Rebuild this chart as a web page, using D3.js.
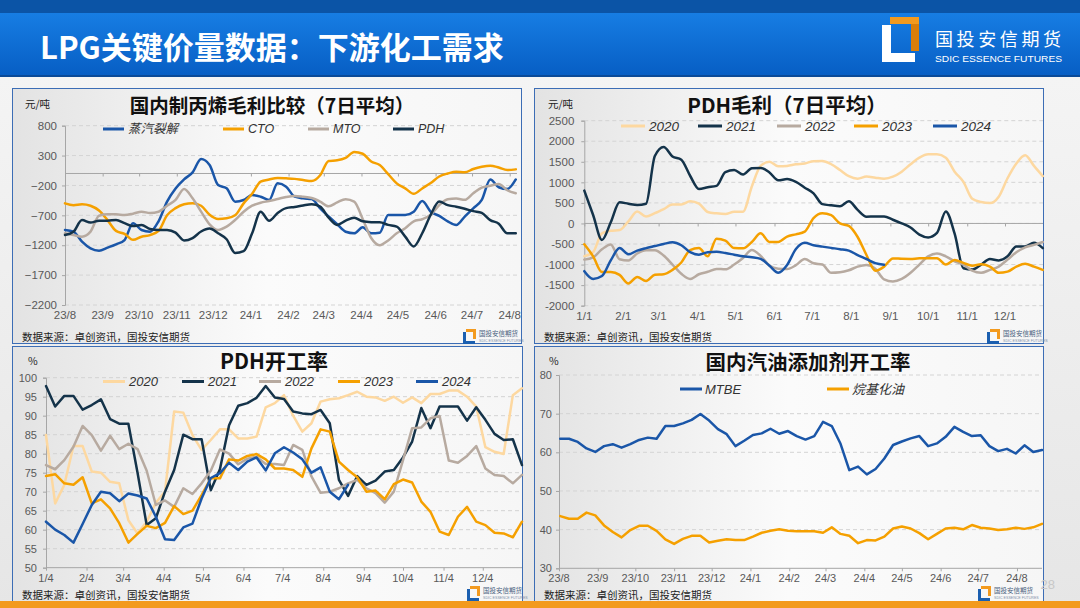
<!DOCTYPE html>
<html><head><meta charset="utf-8">
<script src="https://cdn.jsdelivr.net/npm/d3@7"></script>
<style>html,body{margin:0;padding:0;background:#f0f0f0}svg{display:block}</style>
</head><body>
<svg id="s" width="1080" height="608"></svg>
<script>
// ---------------- DATA ----------------
// Chart 1: 国内制丙烯毛利比较（7日平均）, weekly samples from 2023-08-01
const c1Start = "2023-08-01";
const c1Steam = [-945,-973,-1140,-1252,-1291,-1240,-1185,-1113,-834,-945,-973,-800,-471,-250,-98,19,242,142,-193,-248,-471,-443,-360,-388,-443,-165,-220,-388,-416,-427,-583,-720,-850,-974,-1000,-900,-1000,-990,-694,-694,-694,-640,-460,-640,-710,-800,-862,-720,-583,-443,-100,-230,-260,-100];
const c1CTO = [-499,-530,-516,-540,-620,-780,-960,-1010,-1110,-1057,-1030,-960,-700,-580,-516,-499,-540,-690,-760,-750,-700,-500,-340,-137,-100,-75,-81,-90,-110,-126,-30,210,220,260,360,330,200,142,-10,-165,-248,-340,-250,-160,-50,0,30,19,75,113,131,100,58,69];
const c1MTO = [-1001,-1029,-1057,-973,-706,-683,-683,-694,-672,-639,-661,-639,-539,-443,-260,-416,-639,-850,-945,-890,-778,-639,-539,-489,-460,-427,-394,-377,-390,-410,-470,-550,-483,-430,-470,-760,-1080,-1200,-1120,-1000,-917,-800,-765,-690,-530,-430,-420,-440,-330,-235,-204,-175,-280,-330];
const c1PDH = [-1029,-973,-780,-820,-790,-790,-778,-830,-880,-860,-930,-945,-945,-990,-1120,-1080,-970,-920,-1000,-1100,-1330,-1300,-1000,-640,-790,-660,-580,-560,-535,-516,-555,-740,-860,-790,-740,-800,-815,-817,-860,-890,-1057,-1220,-1000,-690,-470,-530,-555,-590,-630,-660,-780,-840,-1001,-1001];
const c1YTicks = [800,300,-200,-700,-1200,-1700,-2200];
const c1XTicks = ["2023-08-01","2023-09-01","2023-10-01","2023-11-01","2023-12-01","2024-01-01","2024-02-01","2024-03-01","2024-04-01","2024-05-01","2024-06-01","2024-07-01","2024-08-01"];
const c1XLabels = ["23/8","23/9","23/10","23/11","23/12","24/1","24/2","24/3","24/4","24/5","24/6","24/7","24/8"];
const c1Names = ["蒸汽裂解","CTO","MTO","PDH"];

// Chart 2: PDH毛利（7日平均）, weekly samples from Jan 1 of each year
const c2Start = "2023-01-01";
const c2Y2020 = [-800,-700,-240,-180,-160,50,290,170,250,350,460,460,540,480,280,246,230,287,287,900,1400,1500,1390,1400,1440,1460,1515,1519,1440,1300,1150,1090,1140,1114,1090,1138,1260,1440,1600,1681,1681,1600,1260,1010,600,520,495,650,1100,1460,1660,1400,1150];
const c2Y2021 = [800,206,-402,30,514,480,450,480,1640,1860,1630,1550,1160,840,880,915,1250,1300,1190,1340,1350,1240,1050,1080,1010,870,733,470,440,420,540,330,165,170,170,90,3,-100,-270,-340,-230,290,-250,-1091,-1120,-1000,-864,-900,-800,-560,-560,-470,-600];
const c2Y2022 = [-880,-825,-630,-510,-870,-900,-730,-650,-650,-780,-1000,-1225,-1350,-1236,-1176,-1105,-1116,-1000,-840,-645,-790,-1025,-1100,-1110,-1015,-865,-970,-1000,-1200,-1188,-1140,-1050,-1010,-1100,-1360,-1410,-1350,-1200,-1000,-800,-730,-800,-920,-1000,-1150,-1200,-1130,-1050,-880,-700,-580,-520,-450];
const c2Y2023 = [-508,-800,-1180,-1180,-1250,-1460,-1300,-1400,-1250,-1237,-1130,-950,-650,-600,-800,-370,-420,-600,-605,-450,-240,-450,-450,-320,-265,-200,130,246,200,0,-60,-330,-767,-1150,-1050,-850,-860,-864,-848,-848,-848,-1000,-889,-960,-1026,-994,-1050,-1200,-1172,-1050,-980,-1050,-1130];
const c2Y2024 = [-1160,-1350,-1280,-900,-600,-750,-660,-600,-550,-500,-460,-530,-700,-760,-700,-690,-720,-760,-800,-820,-860,-1030,-1200,-1010,-620,-470,-530,-564,-595,-625,-660,-770,-865,-965,-1005];
const c2YTicks = [2500,2000,1500,1000,500,0,-500,-1000,-1500,-2000];
const c2XTicks = ["2023-01-01","2023-02-01","2023-03-01","2023-04-01","2023-05-01","2023-06-01","2023-07-01","2023-08-01","2023-09-01","2023-10-01","2023-11-01","2023-12-01"];
const c2XLabels = ["1/1","2/1","3/1","4/1","5/1","6/1","7/1","8/1","9/1","10/1","11/1","12/1"];
const yearNames = ["2020","2021","2022","2023","2024"];

// Chart 3: PDH开工率 (%), weekly from Jan 4
const c3Start = "2023-01-04";
const c3Y2020 = [84.9,66.9,71.8,82,82,75.3,75,72.6,72.2,62.5,59,62.1,67.1,70,91.1,90.8,84.9,81,83.6,86.4,86.4,84,84,84.5,92.2,93.3,95.4,90,85.8,88,93.7,94.3,94.6,95.4,96.3,95,94.8,93.9,95,93.4,94.8,93.3,95.7,95.7,96.6,96.6,95,92.4,81.7,80.5,79.9,95.4,97.2];
const c3Y2021 = [97.8,92.4,95.2,95.2,91.6,92.8,94.3,89.1,87.9,87.9,75,61.2,63,70,75.7,85,83.8,83.8,70.4,75.9,87.5,92.6,93.3,94.7,97.8,94.8,94.4,91.1,90.6,90.4,91.5,88,73.1,68.9,74.1,71.8,72.9,75.3,75.7,79,83.2,92,86.7,92.4,92.4,92.4,88.7,92.2,88.9,85.2,83.6,83.8,77];
const c3Y2022 = [77,75.9,78.3,81.8,87.3,84.9,80.8,84.7,81.2,82.6,81.2,75.5,66.5,67.7,66,70.9,69.4,72.2,75.5,81.1,80,77.2,78.7,79.2,77.3,77.3,77,82.3,81,74,69.7,70,70.9,72.2,73.1,70.9,69.6,67.1,70,78.3,86.7,86.9,89.3,89.9,78.2,77.6,79.4,82,76.1,74.4,74.1,72.2,74.4];
const c3Y2023 = [74.1,74.6,72.2,71.8,73.8,66.9,68,65.6,61.7,56.6,58.9,61,60.4,61.8,66.2,64.1,65,69.1,73.5,73.5,78.5,78.2,79.4,79.9,78.5,76.1,76.1,75.7,73.9,81.4,86.4,85.8,77.9,75.7,73.8,70,70.3,68,72,73.2,72.4,67.4,64.7,59.5,58.6,63.4,66,62.1,61.2,59.2,59,58,62.1];
const c3Y2024 = [62.1,60,58.6,56.6,61.5,66.5,70,69.6,67.5,69.5,69,68.2,63.4,57.5,57.3,60.6,61.6,68.2,73.6,74.9,77.6,75.7,77.9,79,75.6,80.1,81.7,80.3,78.5,75,76.4,70,68,71.8];
const c3YTicks = [100,95,90,85,80,75,70,65,60,55,50];
const c3XTicks = ["2023-01-04","2023-02-04","2023-03-04","2023-04-04","2023-05-04","2023-06-04","2023-07-04","2023-08-04","2023-09-04","2023-10-04","2023-11-04","2023-12-04"];
const c3XLabels = ["1/4","2/4","3/4","4/4","5/4","6/4","7/4","8/4","9/4","10/4","11/4","12/4"];

// Chart 4: 国内汽油添加剂开工率 (%), weekly from 2023-08-02
const c4Start = "2023-08-02";
const c4MTBE = [63.5,63.5,62.7,61,60.1,61.6,62.1,61.2,62.1,63.2,63.8,63.5,66.8,66.8,67.5,68.4,69.9,68.2,66,64.7,61.6,63,64.5,64.9,66.1,64.8,65.5,64.2,63.3,64.2,67.9,66.8,62.2,55.4,56.3,54.3,55.7,58.4,61.9,62.8,63.6,64.2,61.6,62.3,64,66.6,65.3,64.2,64.4,61.6,60.3,60.9,59.7,61.8,60.1,60.6];
const c4Alky = [43.5,42.8,42.8,44.4,43.7,41.1,39.4,38,39.9,41,41,39.7,37.5,36.3,37.6,38.4,38.4,36.7,37.1,37.5,37.3,37.3,38.2,39.2,39.7,40.1,39.7,39.6,39.6,39.6,39.2,40.6,38.9,38.4,36.5,37.3,37.2,38.2,40.3,40.8,40.3,39.1,37.5,38.9,40.3,40.5,40.1,41.2,40.5,40.3,39.9,40.1,40.5,40.2,40.6,41.5];
const c4YTicks = [80,70,60,50,40,30];
const c4XTicks = c1XTicks;
const c4XLabels = c1XLabels;
const c4Names = ["MTBE","烷基化油"];

// ---------------- STYLE ----------------
const BLUE="#1a56a8", ORANGE="#f5a000", TAUPE="#b7aaa0", NAVY="#14334a", PEACH="#fdd8a0";
const FONT="'Liberation Sans','Noto Sans CJK SC',sans-serif";
const CJK="'Noto Sans CJK SC','Liberation Sans',sans-serif";
const parse=d3.timeParse("%Y-%m-%d");
const svg=d3.select("#s");
const defs=svg.append("defs");

function lg(id,stops,x2,y2){const g=defs.append("linearGradient").attr("id",id).attr("x1",0).attr("y1",0).attr("x2",x2).attr("y2",y2);
 stops.forEach(s=>g.append("stop").attr("offset",s[0]).attr("stop-color",s[1]));}
lg("hdr",[[0,"#1a84ea"],[1,"#075ec4"]],0,1);
lg("bg",[[0,"#f6f6f6"],[1,"#e6e6e6"]],0,1);
lg("pnl",[[0,"#e3e3e3"],[0.5,"#fbfbfb"],[1,"#f6f6f6"]],1,0);

// background + header
svg.append("rect").attr("width",1080).attr("height",608).attr("fill","url(#bg)");
svg.append("rect").attr("width",1080).attr("height",76).attr("fill","url(#hdr)");
svg.append("rect").attr("width",1080).attr("height",13).attr("fill","#0b54a6");
svg.append("rect").attr("y",75).attr("width",1080).attr("height",2).attr("fill","#0a4a98");
svg.append("text").attr("x",40).attr("y",45).attr("dominant-baseline","central")
  .attr("font-family",CJK).attr("font-weight","bold").attr("font-size",31).attr("fill","#fff")
  .text("LPG关键价量数据：下游化工需求");
// logo
svg.append("path").attr("d","M890,17 H919 V51 H911 V24 H890 Z").attr("fill","#f39a1e");
svg.append("path").attr("d","M911,24 H919 V51 H911 Z").attr("fill","#d97e0a");
svg.append("path").attr("d","M882,25 H891 V53 H915 V62 H882 Z").attr("fill","#fff");
svg.append("text").attr("x",935).attr("y",38).attr("dominant-baseline","central").attr("font-family",CJK)
  .attr("font-size",18).attr("fill","#fff").attr("textLength",126).text("国投安信期货");
svg.append("text").attr("x",935).attr("y",62).attr("font-family",FONT).attr("font-size",9.5)
  .attr("fill","#fff").attr("textLength",127).attr("lengthAdjust","spacingAndGlyphs").text("SDIC ESSENCE FUTURES");

// panels
const panels=[[12.5,88.5,509,255],[534.5,88.5,509,255],[12.5,346.5,510,262],[534.5,346.5,509,262]];
panels.forEach(p=>svg.append("rect").attr("x",p[0]).attr("y",p[1]).attr("width",p[2]).attr("height",p[3])
  .attr("fill","url(#pnl)").attr("stroke","#3c6db5").attr("stroke-width",1));

// helpers
function grid(y,vals,x0,x1){
  const g=svg.append("g");
  g.selectAll("line").data(vals).enter().append("line").attr("x1",x0).attr("x2",x1)
   .attr("y1",d=>y(d)).attr("y2",d=>y(d)).attr("stroke","#d4d4d4").attr("stroke-dasharray","4,3");
}
function yAxis(y,vals,x0,pad,fs,fmt){
  const a=svg.append("g").attr("transform",`translate(${x0},0)`)
   .call(d3.axisLeft(y).tickValues(vals).tickSize(3).tickPadding(pad).tickFormat(fmt||(d=>d)));
  a.select(".domain").attr("stroke","#a6a6a6");
  a.selectAll(".tick line").attr("stroke","#a6a6a6");
  a.selectAll("text").attr("font-family",FONT).attr("font-size",fs).attr("fill","#595959");
}
function xTicks(x,ticks,yLine,x0,x1){
  const a=svg.append("g").attr("transform",`translate(0,${yLine})`)
   .call(d3.axisBottom(x).tickValues(ticks).tickSize(3).tickFormat(""));
  a.select(".domain").remove();
  a.selectAll(".tick line").attr("stroke","#a6a6a6");
  svg.append("line").attr("x1",x0).attr("x2",x1).attr("y1",yLine).attr("y2",yLine).attr("stroke","#a6a6a6");
}
function xLabels(x,ticks,labels,yy,fs){
  svg.append("g").selectAll("text").data(ticks).enter().append("text")
   .attr("x",d=>x(d)).attr("y",yy).attr("text-anchor","middle").attr("dominant-baseline","central")
   .attr("font-family",FONT).attr("font-size",fs).attr("fill","#595959").text((d,i)=>labels[i]);
}
function series(x,y,dates,vals,color,curve,w){
  const pts=vals.map((v,i)=>[dates[i],v]);
  svg.append("path").datum(pts).attr("fill","none").attr("stroke",color).attr("stroke-width",w||2.5)
   .attr("stroke-linejoin","round").attr("stroke-linecap","round")
   .attr("d",d3.line().x(d=>x(d[0])).y(d=>y(d[1])).curve(curve||d3.curveLinear));
}
function weekly(start,n){const s=parse(start);return d3.range(n).map(i=>d3.timeDay.offset(s,7*i));}
function legend(items,yy,fs,len,gap){
  items.forEach(it=>{
    svg.append("line").attr("x1",it.x).attr("x2",it.x+len).attr("y1",yy).attr("y2",yy)
      .attr("stroke",it.c).attr("stroke-width",3);
    svg.append("text").attr("x",it.x+len+gap).attr("y",yy).attr("dominant-baseline","central")
      .attr("font-family",FONT).attr("font-style","italic").attr("font-size",fs).attr("fill","#333").text(it.t);
  });
}
function title(t,x,y,fs){
  svg.append("text").attr("x",x).attr("y",y).attr("text-anchor","middle").attr("dominant-baseline","central")
   .attr("font-family",CJK).attr("font-weight","bold").attr("font-size",fs).attr("fill","#111").text(t);
}
function small(t,x,y,fs,anchor){
  svg.append("text").attr("x",x).attr("y",y).attr("dominant-baseline","central").attr("text-anchor",anchor||"start")
   .attr("font-family",CJK).attr("font-size",fs).attr("fill","#222").text(t);
}
function miniLogo(x,y){
  svg.append("path").attr("d",`M${x+3},${y} h10 v10 h-3 v-7 h-7 Z`).attr("fill","#f39a1e");
  svg.append("path").attr("d",`M${x},${y+3} h3 v9 h9 v3 h-12 Z`).attr("fill","#1b5fb0");
  svg.append("text").attr("x",x+16).attr("y",y+7).attr("font-family",CJK).attr("font-size",6.5).attr("fill","#4a5f80").text("国投安信期货");
  svg.append("text").attr("x",x+16).attr("y",y+12.5).attr("font-family",FONT).attr("font-size",3.6).attr("fill","#8090a8").text("SDIC ESSENCE FUTURES");
}
const fmtNeg=d=>d<0?"−"+Math.abs(d):String(d);

// ---------------- CHART 1 ----------------
{
  const x=d3.scaleTime().domain([parse("2023-08-01"),parse("2024-08-07")]).range([65,517]);
  const y=d3.scaleLinear().domain([-2200,800]).range([305,125.67]);
  grid(y,c1YTicks,65,517);
  yAxis(y,c1YTicks,65,5,11.5,fmtNeg);
  xTicks(x,c1XTicks.map(parse),y(0),65,517);
  xLabels(x,c1XTicks.map(parse),c1XLabels,315,11.5);
  const d=weekly(c1Start,c1Steam.length);
  series(x,y,d,c1Steam,BLUE,d3.curveMonotoneX);
  series(x,y,d,c1CTO,ORANGE,d3.curveMonotoneX);
  series(x,y,d,c1MTO,TAUPE,d3.curveMonotoneX);
  series(x,y,d,c1PDH,NAVY,d3.curveMonotoneX);
  title("国内制丙烯毛利比较（7日平均）",272,104,19.5);
  small("元/吨",25,103,10.5);
  legend([{t:c1Names[0],c:BLUE,x:103},{t:c1Names[1],c:ORANGE,x:223},{t:c1Names[2],c:TAUPE,x:308},{t:c1Names[3],c:NAVY,x:393}],129,12.5,21,4);
  small("数据来源：卓创资讯，国投安信期货",22,336,10.5);
  miniLogo(463,329);
}
// ---------------- CHART 2 ----------------
{
  const x=d3.scaleTime().domain([parse("2023-01-01"),parse("2023-12-31")]).range([584.3,1042.8]);
  const y=d3.scaleLinear().domain([-2000,2500]).range([305.67,120.67]);
  grid(y,c2YTicks,584.3,1043);
  yAxis(y,c2YTicks,584.3,7,11.5);
  xTicks(x,c2XTicks.map(parse),y(0),584.3,1043);
  xLabels(x,c2XTicks.map(parse),c2XLabels,315.7,11.5);
  const d=weekly(c2Start,53);
  [[c2Y2020,PEACH],[c2Y2021,NAVY],[c2Y2022,TAUPE],[c2Y2023,ORANGE],[c2Y2024,BLUE]]
    .forEach(s=>series(x,y,d,s[0],s[1],d3.curveMonotoneX));
  title("PDH毛利（7日平均）",787,104,20.5);
  small("元/吨",548,103,10.5);
  const cols=[PEACH,NAVY,TAUPE,ORANGE,BLUE], xs=[621,698,777,854,933];
  legend(yearNames.map((t,i)=>({t,c:cols[i],x:xs[i]})),126,13.5,24,4);
  small("数据来源：卓创资讯，国投安信期货",544,336,10.5);
  miniLogo(987,329);
}
// ---------------- CHART 3 ----------------
{
  const x=d3.scaleTime().domain([parse("2023-01-04"),parse("2024-01-03")]).range([46,522]);
  const y=d3.scaleLinear().domain([50,100]).range([567.67,377.67]);
  grid(y,c3YTicks.filter(v=>v>50),46,522);
  yAxis(y,c3YTicks,46,6,11);
  xTicks(x,c3XTicks.map(parse),y(50),46,522);
  xLabels(x,c3XTicks.map(parse),c3XLabels,578,11);
  const d=weekly(c3Start,53);
  [[c3Y2020,PEACH],[c3Y2021,NAVY],[c3Y2022,TAUPE],[c3Y2023,ORANGE],[c3Y2024,BLUE]]
    .forEach(s=>series(x,y,d,s[0],s[1]));
  title("PDH开工率",274,360,21);
  small("%",28,360,10.5);
  const cols=[PEACH,NAVY,TAUPE,ORANGE,BLUE], xs=[103,182,259,338,416];
  legend(yearNames.map((t,i)=>({t,c:cols[i],x:xs[i]})),381.5,13,22,4);
  small("数据来源：卓创资讯，国投安信期货",22,594,10.5);
  miniLogo(467,586);
}
// ---------------- CHART 4 ----------------
{
  const x=d3.scaleTime().domain([parse("2023-08-01"),parse("2024-08-21")]).range([559,1042]);
  const y=d3.scaleLinear().domain([30,80]).range([568.3,375]);
  grid(y,c4YTicks.filter(v=>v>30),559,1042);
  yAxis(y,c4YTicks,559,4,11);
  xTicks(x,c4XTicks.map(parse),y(30),559,1042);
  xLabels(x,c4XTicks.map(parse),c4XLabels,578,11);
  const d=weekly(c4Start,c4MTBE.length);
  series(x,y,d,c4MTBE,BLUE);
  series(x,y,d,c4Alky,ORANGE);
  title("国内汽油添加剂开工率",808,361,20.5);
  small("%",549,360,10.5);
  legend([{t:c4Names[0],c:BLUE,x:680},{t:c4Names[1],c:ORANGE,x:827}],389,13,22,3);
  small("数据来源：卓创资讯，国投安信期货",544,594,10.5);
  miniLogo(978,586);
}
// bottom bar + page number
svg.append("rect").attr("y",601).attr("width",1080).attr("height",7).attr("fill","#f39a1e");
svg.append("text").attr("x",1055).attr("y",589).attr("text-anchor","end").attr("font-family",FONT)
  .attr("font-size",13).attr("fill","#c8c8c8").text("28");
</script>
</body></html>
